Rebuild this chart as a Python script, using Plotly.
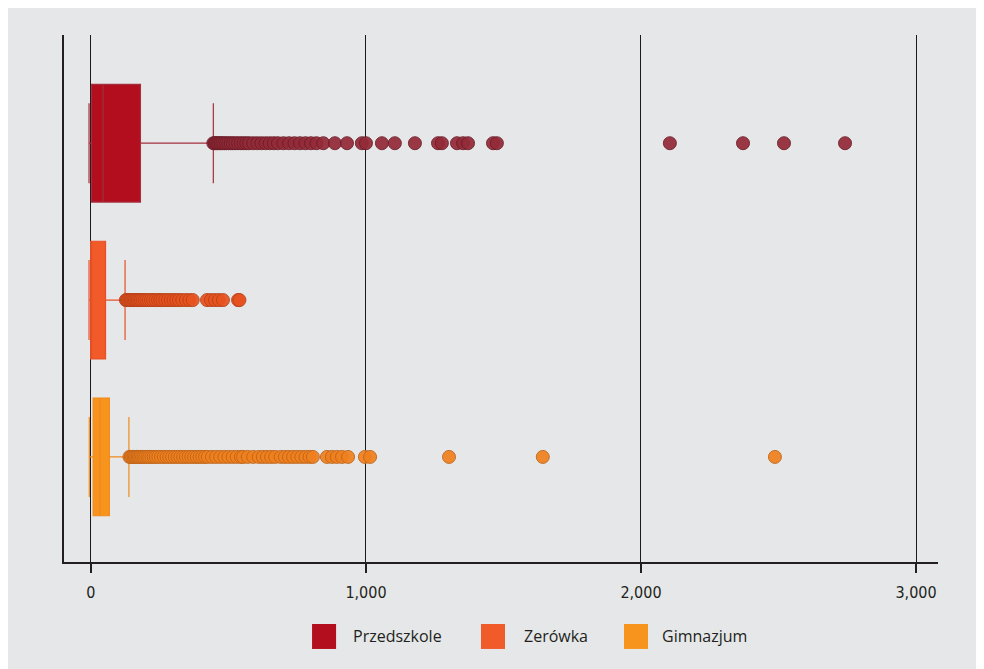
import plotly.graph_objects as go

categories = ["Przedszkole", "Zerówka", "Gimnazjum"]

# box statistics
q1_vals = [2, -1, 8]
median_vals = [44, 0, 33]
q3_vals = [180, 53, 67]
lower_fence_vals = [-7, -7, -6]
upper_fence_vals = [445, 124, 138]

# outliers
outliers_przedszkole = [445, 450, 455, 460, 466, 472, 478, 485, 492, 500, 508, 516, 525, 535,
                        545, 555, 565, 575, 590, 605, 620, 635, 650, 665, 680, 700, 720, 740,
                        760, 780, 800, 820, 845, 887, 931, 985, 1000, 1058, 1105, 1178, 1262,
                        1276, 1331, 1353, 1371, 1462, 1476, 2105, 2371, 2520, 2742]
outliers_zerowka = [127, 131, 135, 140, 145, 150, 155, 160, 165, 170, 176, 182, 188, 195, 202,
                    210, 218, 226, 235, 244, 252, 260, 270, 280, 290, 300, 310, 320, 332, 345,
                    358, 370, 422, 436, 451, 465, 480, 535, 540]
outliers_gimnazjum = [140, 145, 150, 155, 160, 165, 170, 175, 180, 186, 192, 198, 205, 212, 220,
                      228, 236, 245, 255, 265, 275, 285, 295, 305, 315, 325, 335, 345, 355, 365,
                      375, 385, 395, 405, 415, 425, 440, 455, 470, 485, 500, 515, 530, 545, 553,
                      570, 590, 610, 625, 640, 655, 670, 690, 705, 720, 735, 750, 765, 780, 795,
                      807, 858, 876, 894, 913, 935, 996, 1015, 1302, 1643, 2487]
outliers = [outliers_przedszkole, outliers_zerowka, outliers_gimnazjum]

x_ticks = [0, 1000, 2000, 3000]
x_tick_labels = ["0", "1,000", "2,000", "3,000"]

fill_colors = ["#B20E1E", "#F15A29", "#F7941D"]
line_colors = ["#A3303E", "#E8502A", "#F08A1C"]
marker_fill = ["#932A37", "#E8531F", "#F0801E"]
marker_line = ["#6E1E29", "#B8421A", "#C0651A"]

BG = "#E6E7E8"
TXT = "#231F20"
FONT = "Open Sans"
NARROW = "Liberation Sans Narrow, DejaVu Sans Condensed, sans-serif"

fig = go.Figure()
for i, cat in enumerate(categories):
    fig.add_trace(go.Box(
        y=[cat], q1=[q1_vals[i]], median=[median_vals[i]], q3=[q3_vals[i]],
        lowerfence=[lower_fence_vals[i]], upperfence=[upper_fence_vals[i]],
        orientation="h", boxpoints=False, whiskerwidth=0.68, width=0.75,
        fillcolor=fill_colors[i], line=dict(color=line_colors[i], width=1.2),
        showlegend=False, name=cat,
    ))
    fig.add_trace(go.Scatter(
        x=outliers[i], y=[cat] * len(outliers[i]), mode="markers",
        marker=dict(size=13, color=marker_fill[i], opacity=0.92,
                    line=dict(color=marker_line[i], width=1)),
        showlegend=False, name=cat,
    ))

fig.update_layout(
    width=984, height=669,
    paper_bgcolor=BG, plot_bgcolor=BG,
    margin=dict(l=56, r=54, t=27, b=115),
    boxmode="overlay",
    font=dict(family=FONT, color=TXT, size=14),
    xaxis=dict(
        range=[-98, 3080], tickvals=x_ticks, ticktext=x_tick_labels,
        showgrid=True, gridcolor="#1a1a1a", gridwidth=1, zeroline=False,
        showline=True, linecolor=TXT, linewidth=2,
        ticks="outside", ticklen=9, tickwidth=2, tickcolor=TXT,
        ticklabelstandoff=6, tickfont=dict(size=16, color=TXT, family=NARROW),
    ),
    yaxis=dict(
        type="category", categoryorder="array", categoryarray=categories,
        range=[2.67, -0.69], showticklabels=False, ticks="",
        showgrid=False, zeroline=False,
        showline=True, linecolor=TXT, linewidth=2,
    ),
)

# legend drawn as squares + text below the plot
legend_items = [(0.2838, 0.3284, "Przedszkole"), (0.4771, 0.5240, "Zerówka"),
                (0.6407, 0.6819, "Gimnazjum")]
for (x0, xt, label), col in zip(legend_items, fill_colors):
    fig.add_shape(type="rect", xref="paper", yref="paper",
                  x0=x0, x1=x0 + 0.0275, y0=-0.1176, y1=-0.165,
                  fillcolor=col, line=dict(width=0))
    fig.add_annotation(xref="paper", yref="paper", x=xt, y=-0.141,
                       text=label, showarrow=False, xanchor="left", yanchor="middle",
                       font=dict(size=16, color=TXT, family=FONT))

fig.write_html("out.html")
